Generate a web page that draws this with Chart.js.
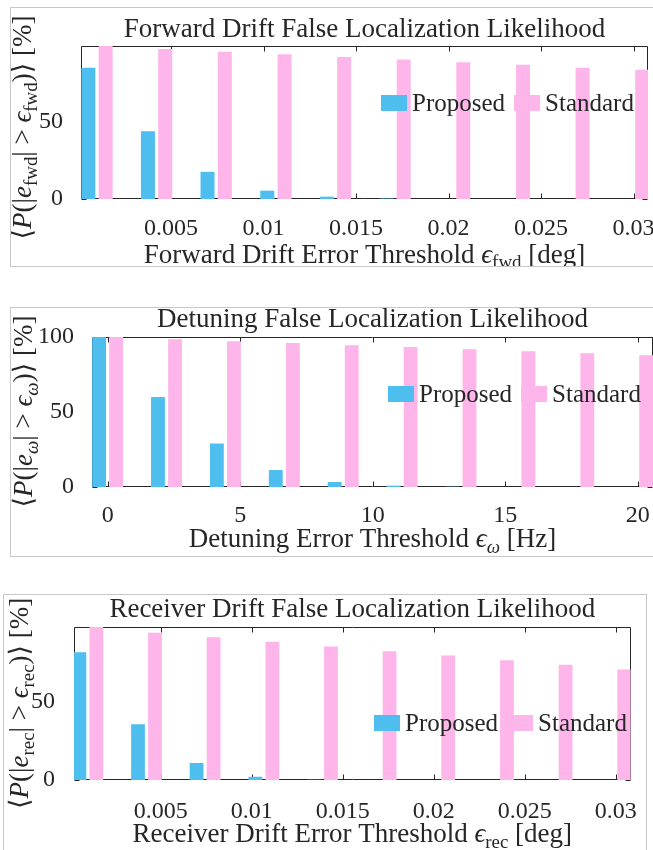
<!DOCTYPE html>
<html>
<head>
<meta charset="utf-8">
<script src="https://cdn.jsdelivr.net/npm/chart.js@4.4.1/dist/chart.umd.min.js"></script>
<style>
  html, body { margin: 0; padding: 0; background: #fff; width: 653px; height: 850px; overflow: hidden; }
  .panel { position: absolute; border: 1px solid #c8c8c8; box-sizing: border-box; overflow: hidden; background: #fff; }
  .panel canvas { display: block; }
</style>
</head>
<body>
<div class="panel" style="left:10px;top:7px;width:700px;height:260px"><canvas id="fwdChart" width="698" height="258"></canvas></div>
<div class="panel" style="left:10px;top:307px;width:700px;height:250px"><canvas id="detChart" width="698" height="248"></canvas></div>
<div class="panel" style="left:3px;top:594px;width:644px;height:270px"><canvas id="recChart" width="642" height="268"></canvas></div>
<script>
// ===== DATA =====
const seriesNames = ["Proposed", "Standard"];

// drift thresholds [deg] (forward + receiver panels)
const driftThresholds = [0.001, 0.00422, 0.00744, 0.01067, 0.01389, 0.01711, 0.02033, 0.02356, 0.02678, 0.03];
const fwdProposed = [85.0, 43.9, 17.6, 5.4, 1.5, 0.3, 0, 0, 0, 0];
const fwdStandard = [99.0, 97.1, 95.3, 93.7, 91.9, 90.2, 88.5, 86.8, 85.0, 83.7];
const recProposed = [81.7, 35.7, 10.8, 2.1, 0.2, 0, 0, 0, 0, 0];
const recStandard = [97.8, 94.2, 91.3, 88.3, 85.3, 82.3, 79.6, 76.6, 73.6, 70.6];

// detuning thresholds [Hz]
const detThresholds = [0, 2.222, 4.444, 6.667, 8.889, 11.111, 13.333, 15.556, 17.778, 20];
const detProposed = [100, 60.0, 29.0, 11.3, 3.3, 0.9, 0.2, 0, 0, 0];
const detStandard = [100, 98.5, 97.1, 96.0, 94.5, 93.3, 91.8, 90.5, 89.2, 87.8];

// ticks
const driftTicks = [0.005, 0.01, 0.015, 0.02, 0.025, 0.03];
const driftTickLabels = ["0.005", "0.01", "0.015", "0.02", "0.025", "0.03"];
const detTicks = [0, 5, 10, 15, 20];
const detTickLabels = ["0", "5", "10", "15", "20"];
const pctTicks = [0, 50];
const pctTickLabels = ["0", "50"];
const pctTicksFull = [0, 50, 100];
const pctTickLabelsFull = ["0", "50", "100"];

// ===== STYLE =====
const FONT = "'Liberation Serif', 'DejaVu Serif', serif";
const INK = "#262626";
const BLUE = "#4dbeee";
const PINK = "#fdb5ea";

Chart.defaults.font.family = FONT;
Chart.defaults.color = INK;

// draw a row of text pieces: [text, style] with style "" / "i" (italic) / "s" (subscript) / "si"
function drawRich(ctx, runs, x, y, size) {
  const fontFor = st => (st.includes("i") ? "italic " : "") + (st.includes("s") ? size * 0.7 : size) + "px " + FONT;
  let total = 0;
  runs.forEach(([t, st]) => { ctx.font = fontFor(st); total += ctx.measureText(t).width; });
  let cx = x - total / 2;
  runs.forEach(([t, st]) => {
    ctx.font = fontFor(st);
    ctx.fillText(t, cx, y + (st.includes("s") ? size * 0.22 : 0));
    cx += ctx.measureText(t).width;
  });
}

// ===== MATLAB STYLE BOX + INWARD TICKS (under the bars) =====
const matlabAxes = {
  id: "matlabAxes",
  beforeDatasetsDraw(chart) {
    const { ctx, chartArea: a, scales: { x, y } } = chart;
    const len = 5;
    const L = Math.round(a.left) + 0.5, R = Math.round(a.right) - 0.5;
    const T = Math.round(a.top) + 0.5, B = Math.round(a.bottom) - 0.5;
    ctx.save();
    ctx.strokeStyle = INK;
    ctx.lineWidth = 1;
    ctx.beginPath();
    ctx.rect(L, T, R - L, B - T);
    x.ticks.forEach(t => {
      const px = Math.round(x.getPixelForValue(t.value)) + 0.5;
      ctx.moveTo(px, B); ctx.lineTo(px, B - len);
      ctx.moveTo(px, T); ctx.lineTo(px, T + len);
    });
    y.ticks.forEach(t => {
      const py = Math.round(y.getPixelForValue(t.value)) + 0.5;
      ctx.moveTo(L, py); ctx.lineTo(L + len, py);
      ctx.moveTo(R, py); ctx.lineTo(R - len, py);
    });
    ctx.stroke();
    ctx.restore();
  },
};

// ===== TITLE, AXIS LABELS AND IN-PLOT LEGEND =====
const panelText = {
  id: "panelText",
  afterDatasetsDraw(chart, args, opts) {
    const { ctx } = chart;
    ctx.save();
    ctx.textBaseline = "alphabetic";
    ctx.font = opts.legendSize + "px " + FONT;
    let lx = opts.legendX;
    chart.data.datasets.forEach(ds => {
      ctx.fillStyle = ds.backgroundColor;
      ctx.fillRect(lx, opts.legendY, 26, 16);
      ctx.fillStyle = INK;
      ctx.textAlign = "left";
      ctx.fillText(ds.label, lx + 31, opts.legendY + 16);
      lx += 31 + ctx.measureText(ds.label).width + 9;
    });
    ctx.restore();
  },
  afterDraw(chart, args, opts) {
    const { ctx, chartArea: a } = chart;
    const cx = (a.left + a.right) / 2;
    ctx.save();
    ctx.fillStyle = INK;
    ctx.textAlign = "left";
    ctx.textBaseline = "alphabetic";
    drawRich(ctx, [[opts.title, ""]], cx, a.top - opts.titleGap, opts.titleSize);
    drawRich(ctx, opts.xLabel, cx, opts.xLabelY, opts.labelSize);
    ctx.translate(opts.yLabelX, opts.yLabelY);
    ctx.rotate(-Math.PI / 2);
    drawRich(ctx, opts.yLabel, 0, 0, opts.labelSize);
    ctx.restore();
  },
};

function makePanel(canvasId, cfg) {
  return new Chart(document.getElementById(canvasId), {
    type: "bar",
    data: {
      datasets: [
        { label: seriesNames[0], data: cfg.xs.map((x, i) => ({ x, y: cfg.proposed[i] })), backgroundColor: BLUE },
        { label: seriesNames[1], data: cfg.xs.map((x, i) => ({ x, y: cfg.standard[i] })), backgroundColor: PINK },
      ],
    },
    options: {
      responsive: false,
      animation: false,
      events: [],
      layout: { padding: { top: cfg.area.top, right: cfg.padRight, left: 0, bottom: 0 } },
      datasets: { bar: { categoryPercentage: 0.58, barPercentage: 0.81, borderWidth: 0 } },
      scales: {
        x: {
          type: "linear",
          min: cfg.xMin,
          max: cfg.xMax,
          offset: false,
          grid: { display: false },
          border: { display: false },
          afterBuildTicks: s => { s.ticks = cfg.xTicks.map(v => ({ value: v })); },
          afterFit: s => { s.height = cfg.xHeight; },
          ticks: {
            autoSkip: false,
            maxRotation: 0,
            padding: cfg.xTickPad,
            color: INK,
            font: { size: 24 },
            callback: (v, i) => cfg.xTickLabels[i],
          },
        },
        y: {
          min: 0,
          max: cfg.yMax,
          grid: { display: false },
          border: { display: false },
          afterBuildTicks: s => { s.ticks = cfg.yTicks.map(v => ({ value: v })); },
          afterFit: s => { s.width = cfg.area.left; },
          ticks: {
            padding: cfg.yTickPad,
            color: INK,
            font: { size: 24 },
            callback: (v, i) => cfg.yTickLabels[i],
          },
        },
      },
      plugins: {
        legend: { display: false },
        tooltip: { enabled: false },
        panelText: {
          title: cfg.title,
          titleGap: cfg.titleGap,
          titleSize: 27,
          xLabel: cfg.xLabel,
          xLabelY: cfg.xLabelY,
          yLabel: cfg.yLabel,
          yLabelX: cfg.yLabelX,
          yLabelY: cfg.yLabelY,
          labelSize: 27,
          legendX: cfg.legendX,
          legendY: cfg.legendY,
          legendSize: 25,
        },
      },
    },
    plugins: [matlabAxes, panelText],
  });
}

const EPS = "\u03F5";

// ===== FORWARD DRIFT =====
makePanel("fwdChart", {
  xs: driftThresholds, proposed: fwdProposed, standard: fwdStandard,
  xMin: 0.000135, xMax: 0.03078, xTicks: driftTicks, xTickLabels: driftTickLabels,
  yMax: 99, yTicks: pctTicks, yTickLabels: pctTickLabels,
  area: { left: 70, top: 38 }, padRight: 61, xHeight: 67, xTickPad: 7.5, yTickPad: 10,
  title: "Forward Drift False Localization Likelihood", titleGap: 9.5,
  xLabel: [["Forward Drift Error Threshold ", ""], [EPS, "i"], ["fwd", "s"], [" [deg]", ""]],
  xLabelY: 254.5,
  yLabel: [["\u27E8", ""], ["P", "i"], ["(|", ""], ["e", "i"], ["fwd", "s"], ["| > ", ""], [EPS, "i"], ["fwd", "s"], [")\u27E9 [%]", ""]],
  yLabelX: 20, yLabelY: 119.5,
  legendX: 370, legendY: 87,
});

// ===== DETUNING =====
makePanel("detChart", {
  xs: detThresholds, proposed: detProposed, standard: detStandard,
  xMin: -0.59, xMax: 20.58, xTicks: detTicks, xTickLabels: detTickLabels,
  yMax: 100, yTicks: pctTicksFull, yTickLabels: pctTickLabelsFull,
  area: { left: 81, top: 29 }, padRight: 56, xHeight: 69, xTickPad: 6.2, yTickPad: 10,
  title: "Detuning False Localization Likelihood", titleGap: 10.5,
  xLabel: [["Detuning Error Threshold ", ""], [EPS, "i"], ["\u03C9", "si"], [" [Hz]", ""]],
  xLabelY: 239.3,
  yLabel: [["\u27E8", ""], ["P", "i"], ["(|", ""], ["e", "i"], ["\u03C9", "si"], ["| > ", ""], [EPS, "i"], ["\u03C9", "si"], [")\u27E9 [%]", ""]],
  yLabelX: 21, yLabelY: 103.5,
  legendX: 377, legendY: 78,
});

// ===== RECEIVER DRIFT =====
makePanel("recChart", {
  xs: driftThresholds, proposed: recProposed, standard: recStandard,
  xMin: 0.000237, xMax: 0.03082, xTicks: driftTicks, xTickLabels: driftTickLabels,
  yMax: 97.8, yTicks: pctTicks, yTickLabels: pctTickLabels,
  area: { left: 70, top: 32 }, padRight: 4, xHeight: 83, xTickPad: 9.2, yTickPad: 11,
  title: "Receiver Drift False Localization Likelihood", titleGap: 9.7,
  xLabel: [["Receiver Drift Error Threshold ", ""], [EPS, "i"], ["rec", "s"], [" [deg]", ""]],
  xLabelY: 246.7,
  yLabel: [["\u27E8", ""], ["P", "i"], ["(|", ""], ["e", "i"], ["rec", "s"], ["| > ", ""], [EPS, "i"], ["rec", "s"], [")\u27E9 [%]", ""]],
  yLabelX: 24, yLabelY: 108.3,
  legendX: 370, legendY: 120,
});
</script>
</body>
</html>
